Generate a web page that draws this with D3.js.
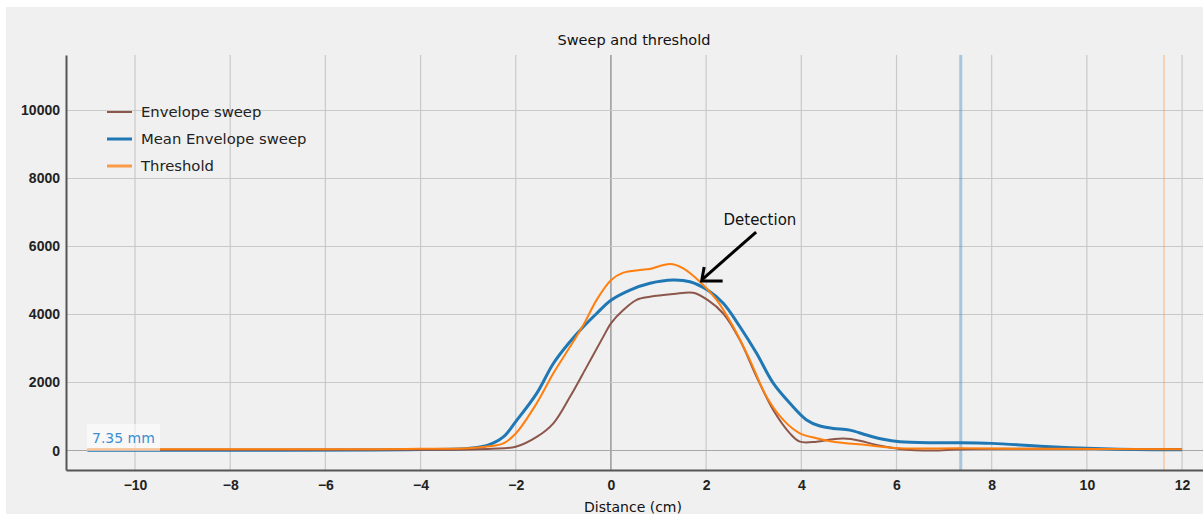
<!DOCTYPE html>
<html>
<head>
<meta charset="utf-8">
<script src="https://cdn.jsdelivr.net/npm/d3@7"></script>
<style>
  body { margin: 0; background: #fff; }
  svg { display: block; font-family: "DejaVu Sans", sans-serif; }
  .tick text { fill: #222; font-size: 14px; }
</style>
</head>
<body>
<svg id="chart" width="1203" height="515"></svg>
<script>
/* ------------------------------- data -------------------------------- */
const envX   = [-11, -8, -5, -4, -3, -2.5, -2, -1.56, -1.21, -0.86, -0.51, -0.16, 0, 0.26, 0.54, 0.82, 1.31, 1.73, 2.03, 2.36, 2.71, 3.06, 3.41, 3.76, 3.97, 4.32, 4.67, 4.88, 5.23, 5.58, 6.07, 6.77, 7.33, 9, 12];
const envY   = [20, 20, 20, 25, 30, 50, 110, 400, 800, 1580, 2460, 3350, 3740, 4130, 4430, 4520, 4600, 4640, 4430, 4030, 3250, 2170, 1190, 505, 260, 260, 330, 350, 290, 160, 45, 0, 40, 50, 40];

const meanX  = [-11, -8, -5, -4, -3, -2.6, -2.26, -2, -1.56, -1.21, -0.86, -0.58, -0.3, 0, 0.4, 0.82, 1.31, 1.66, 2.03, 2.36, 2.71, 3.06, 3.41, 3.76, 4.11, 4.39, 4.67, 5.02, 5.37, 5.72, 6.07, 6.77, 7.33, 8, 9.23, 10, 11, 12];
const meanY  = [10, 10, 15, 30, 60, 150, 400, 850, 1680, 2560, 3200, 3640, 4030, 4420, 4720, 4920, 5015, 4965, 4720, 4330, 3640, 2860, 1980, 1390, 900, 720, 650, 600, 455, 330, 260, 230, 230, 210, 110, 65, 30, 20];

const thrX   = [-11, -8, -5, -4, -3, -2.6, -2.26, -2, -1.56, -1.21, -0.86, -0.58, -0.3, 0, 0.26, 0.61, 0.82, 1.24, 1.52, 1.87, 2.22, 2.57, 2.92, 3.27, 3.62, 3.97, 4.32, 4.67, 5.37, 6.07, 7.33, 9, 12];
const thrY   = [40, 40, 40, 50, 70, 120, 210, 500, 1390, 2270, 3050, 3690, 4430, 5010, 5230, 5310, 5340, 5485, 5360, 4965, 4430, 3640, 2660, 1580, 900, 505, 360, 260, 160, 65, 65, 50, 40];

const seriesNames  = ['Envelope sweep', 'Mean Envelope sweep', 'Threshold'];
const seriesColors = ['#8c564b', '#1f77b4', '#ff7f0e'];
const seriesWidths = [2, 3, 2];

const xTicks = [-10, -8, -6, -4, -2, 0, 2, 4, 6, 8, 10, 12];
const yTicks = [0, 2000, 4000, 6000, 8000, 10000];

const detectionPos = 7.35;   // cm, blue marker
const thresholdEnd = 11.62;  // cm, orange marker
const markerLabel  = '7.35 mm';
const arrowTip  = [1.885, 4985];
const arrowTail = [3.05, 6426];
const arrowText = [3.13, 6780];

/* ------------------------------- chart setup ------------------------- */
const svg = d3.select('#chart');
svg.append('rect').attr('x', 6).attr('y', 7).attr('width', 1197).attr('height', 507).attr('fill', '#f0f0f0');

const LEFT = 66, RIGHT = 1203, TOP = 55, BOTTOM = 470;
const x = d3.scaleLinear().domain([-11.45, 12.44]).range([LEFT, RIGHT]);
const y = d3.scaleLinear().domain([-573, 11632]).range([BOTTOM, TOP]);

// grid
const grid = svg.append('g');
grid.selectAll('.vg').data(xTicks).enter().append('line')
  .attr('x1', d => x(d)).attr('x2', d => x(d)).attr('y1', TOP).attr('y2', BOTTOM)
  .attr('stroke', d => d === 0 ? '#6e6e6e' : '#c9c9c9').attr('stroke-width', d => d === 0 ? 1 : 1.2);
grid.selectAll('.hg').data(yTicks).enter().append('line')
  .attr('x1', LEFT).attr('x2', RIGHT).attr('y1', d => y(d)).attr('y2', d => y(d))
  .attr('stroke', d => d === 0 ? '#a8a8a8' : '#c9c9c9').attr('stroke-width', 1.2);

// vertical markers
svg.append('line').attr('x1', x(detectionPos)).attr('x2', x(detectionPos)).attr('y1', TOP).attr('y2', BOTTOM)
  .attr('stroke', '#1f77b4').attr('stroke-opacity', 0.35).attr('stroke-width', 3);
svg.append('line').attr('x1', x(thresholdEnd)).attr('x2', x(thresholdEnd)).attr('y1', TOP).attr('y2', BOTTOM)
  .attr('stroke', '#ff7f0e').attr('stroke-opacity', 0.35).attr('stroke-width', 1.5);

// axes
const xAxisG = svg.append('g').attr('transform', `translate(0,${BOTTOM})`)
  .call(d3.axisBottom(x).tickValues(xTicks).tickSize(0).tickPadding(10));
const yAxisG = svg.append('g').attr('transform', `translate(${LEFT},0)`)
  .call(d3.axisLeft(y).tickValues(yTicks).tickSize(0).tickPadding(6).tickFormat(d3.format('d')));
xAxisG.select('.domain').attr('stroke', '#555').attr('stroke-width', 2);
yAxisG.select('.domain').attr('stroke', '#555').attr('stroke-width', 2);
xAxisG.selectAll('.tick text').attr('font-weight', 600);
yAxisG.selectAll('.tick text').attr('font-weight', 600);

/* ------------------------------- series ------------------------------ */
const lineGen = d3.line().curve(d3.curveCatmullRom.alpha(0.5)).x(d => x(d[0])).y(d => y(d[1]));
const series = [d3.zip(envX, envY), d3.zip(meanX, meanY), d3.zip(thrX, thrY)];
const drawOrder = [1, 0, 2];
drawOrder.forEach(i => {
  svg.append('path').datum(series[i]).attr('d', lineGen)
    .attr('fill', 'none').attr('stroke', seriesColors[i]).attr('stroke-width', seriesWidths[i])
    .attr('stroke-linejoin', 'round');
});

// marker label box
const lab = svg.append('g');
lab.append('rect').attr('x', 87).attr('y', 424).attr('width', 73).attr('height', 27)
  .attr('fill', '#fff').attr('fill-opacity', 0.55);
lab.append('text').attr('x', 92).attr('y', 443).attr('fill', '#3d8fd1').attr('font-size', 14)
  .text(markerLabel);

/* ------------------------------- legend ------------------------------ */
const legend = svg.append('g');
seriesNames.forEach((name, i) => {
  const ly = 112 + i * 27;
  legend.append('line').attr('x1', 107).attr('x2', 132).attr('y1', ly).attr('y2', ly)
    .attr('stroke', seriesColors[i]).attr('stroke-width', i === 0 ? 2 : 3).attr('stroke-opacity', i === 2 ? 0.75 : 1);
  legend.append('text').attr('x', 141).attr('y', ly + 5).attr('font-size', 14.8).attr('fill', '#222')
    .text(name);
});

/* ------------------------------- annotation -------------------------- */
svg.append('text').attr('x', x(arrowText[0])).attr('y', y(arrowText[1]) + 5)
  .attr('text-anchor', 'middle').attr('font-size', 15).attr('fill', '#111').text('Detection');
const tip = [x(arrowTip[0]), y(arrowTip[1])], tail = [x(arrowTail[0]), y(arrowTail[1])];
svg.append('line').attr('x1', tail[0]).attr('y1', tail[1]).attr('x2', tip[0] + 2).attr('y2', tip[1] - 2)
  .attr('stroke', '#000').attr('stroke-width', 3);
svg.append('path')
  .attr('d', `M${tip[0] + 3.5},${tip[1] - 14} L${tip[0] + 1},${tip[1]} L${tip[0] + 22},${tip[1]}`)
  .attr('fill', 'none').attr('stroke', '#000').attr('stroke-width', 3).attr('stroke-linejoin', 'miter');

// title and axis label
svg.append('text').attr('x', 634).attr('y', 45).attr('text-anchor', 'middle').attr('font-size', 14.5)
  .attr('fill', '#111').text('Sweep and threshold');
svg.append('text').attr('x', 633).attr('y', 512).attr('text-anchor', 'middle').attr('font-size', 14)
  .attr('fill', '#111').text('Distance (cm)');
</script>
</body>
</html>
